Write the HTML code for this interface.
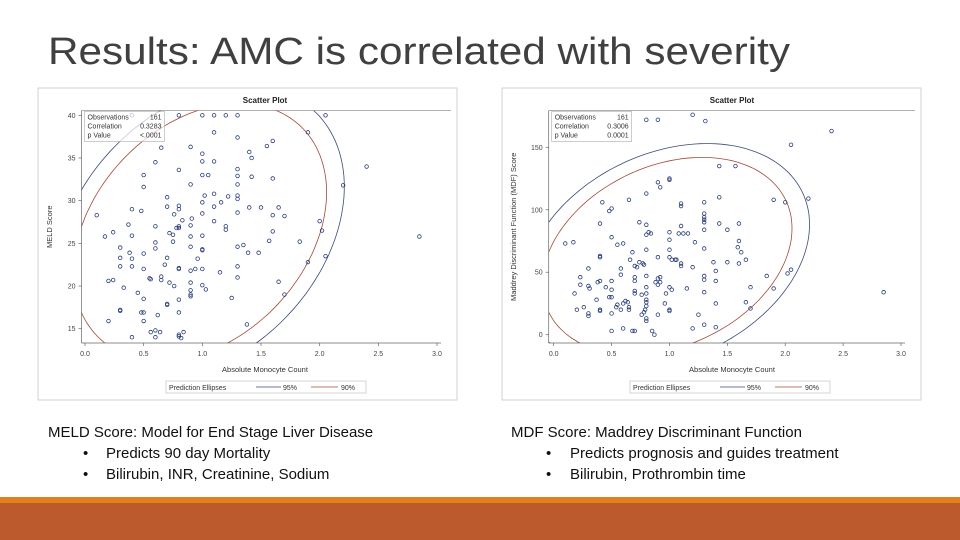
<!DOCTYPE html>
<html><head><meta charset="utf-8"><style>
html,body{margin:0;padding:0;background:#fff;}
svg{display:block;font-family:"Liberation Sans",sans-serif;}
</style></head><body>
<svg id="s" width="960" height="540" viewBox="0 0 960 540" xmlns="http://www.w3.org/2000/svg">
<text x="48" y="64" font-size="38" fill="#404040" textLength="742" lengthAdjust="spacingAndGlyphs">Results: AMC is correlated with severity</text>
<g id="left"></g>
<g id="right"></g>
<g font-size="15" fill="#111">
<text x="48" y="437">MELD Score: Model for End Stage Liver Disease</text>
<text x="83" y="458">•</text>
<text x="106" y="458">Predicts 90 day Mortality</text>
<text x="83" y="479">•</text>
<text x="106" y="479">Bilirubin, INR, Creatinine, Sodium</text>
</g>
<g font-size="15" fill="#111">
<text x="511" y="437">MDF Score: Maddrey Discriminant Function</text>
<text x="546" y="458">•</text>
<text x="570" y="458">Predicts prognosis and guides treatment</text>
<text x="546" y="479">•</text>
<text x="570" y="479">Bilirubin, Prothrombin time</text>
</g>
<rect x="0" y="497" width="960" height="6" fill="#E0821C"/>
<rect x="0" y="503" width="960" height="37" fill="#BC5A2E"/>
</svg>
<script>
const meldX=[0.4,0.8,1.0,1.1,1.2,1.3,2.05,1.1,1.3,1.9,0.65,0.9,1.55,1.6,1.4,1.42,1.0,0.6,1.0,1.1,2.4,0.8,1.3,0.5,1.0,1.05,1.3,1.42,1.6,0.5,0.9,1.3,2.2,1.1,1.02,1.22,1.3,0.7,1.3,0.7,0.8,0.4,0.48,0.8,1.1,1.16,1.0,1.4,1.5,1.65,0.1,0.76,0.83,1.0,1.3,1.6,1.7,0.91,0.37,0.6,0.78,0.8,0.9,1.1,1.2,2.0,0.17,0.24,0.4,0.72,0.75,0.8,0.9,1.0,1.2,1.6,2.02,2.85,0.6,0.75,1.57,1.83,1.35,0.3,0.6,0.9,1.0,1.0,1.3,0.38,0.5,1.39,1.48,0.3,0.4,0.7,0.96,2.05,1.9,0.3,0.4,0.68,0.8,0.8,0.94,1.0,1.3,0.5,0.9,1.15,0.55,0.56,0.65,0.65,0.2,0.24,0.72,0.9,1.3,1.65,0.33,0.76,1.0,1.03,0.9,0.45,0.9,0.9,1.7,0.5,0.8,1.25,0.7,0.7,0.3,0.3,0.48,0.5,0.62,0.8,0.2,0.5,1.38,0.6,0.56,0.64,0.8,0.84,0.8,0.4,0.6,0.82];
const meldY=[40,40,40,40,40,40,40,38,37.4,38,36.2,36.3,36.4,37,35.7,35,35.5,34.5,34.6,34.6,34,33.6,33.7,33,33,33,32.9,32.8,32.6,31.6,31.9,31.9,31.8,30.8,30.6,30.5,30.6,30.4,30.2,29.3,29.4,29,28.8,29,29.3,29.8,29.8,29.2,29.2,29.2,28.3,28.4,27.7,28.5,28.6,28.3,28.2,27.9,27.2,27,26.8,27,27.1,27.6,27,27.6,25.8,26.3,25.9,26.2,26,26.8,25.8,25.9,26.6,26.4,26.5,25.8,25.1,25.2,25.3,25.2,24.8,24.5,24.4,24.6,24.3,24.2,24.6,23.9,23.8,23.9,23.9,23.3,23.2,23.3,23.2,23.5,22.8,22.3,22.3,22.5,22.1,22,22,22,22.3,22,21.8,21.6,20.9,20.8,21.1,20.7,20.6,20.7,20.4,20.4,21,20.5,19.8,20,20.1,19.6,19.5,19.2,19,18.8,19,18.5,18.4,18.6,17.9,17.8,17.2,17.1,16.9,16.9,16.6,16.9,15.9,15.9,15.5,14.8,14.6,14.6,14.3,14.6,14.1,14,14,13.9];
const mdfX=[0.8,0.9,1.2,1.31,2.4,2.05,1.43,1.57,1.0,1.0,0.9,0.92,0.8,1.43,1.9,2.0,2.2,0.42,0.5,0.48,0.65,1.1,1.1,1.3,0.4,0.74,0.8,1.3,1.3,1.3,1.3,1.43,1.6,0.5,0.8,0.82,0.84,1.0,1.08,1.1,1.12,1.16,1.3,1.5,1.6,0.1,0.17,0.55,0.6,1.0,1.22,1.3,1.59,0.8,0.4,0.4,0.68,0.66,0.9,1.0,1.02,1.05,1.06,1.0,1.6,1.66,1.38,1.5,1.62,0.3,0.58,0.7,0.72,0.78,0.77,0.74,1.1,1.1,1.2,1.3,1.3,1.4,1.4,2.02,2.05,0.23,0.4,0.38,0.58,0.7,0.7,0.8,0.9,0.92,0.88,0.9,0.92,1.84,0.23,0.3,0.31,0.45,0.5,0.5,0.48,0.5,0.7,0.7,0.76,0.8,0.8,1.0,1.02,0.97,1.15,1.3,1.7,1.9,2.85,0.18,0.37,0.6,0.62,0.64,0.55,0.54,0.58,0.65,0.65,0.8,0.8,0.8,0.96,1.4,1.66,0.2,0.26,0.4,0.4,0.3,0.3,0.5,0.79,0.78,0.76,0.8,0.8,1.0,1.0,1.7,0.9,1.25,0.5,0.6,0.68,0.7,0.85,0.87,1.2,1.3,1.4];
const mdfY=[172,172,176,171,163,152,135,135,125,124,122,118,113,110,108,106,109,106,101,99,108,105,103,106,89,90,88,97,94,92,90,89,89,78,80,82,81,82,81,87,81,81,84,84,75,73,74,72,73,76,74,69,70,68,62,63,66,60,62,62,60,60,60,68,57,60,58,58,66,53,53,55,54,56,57,58,55,57,54,47,44,51,43,49,52,46,43,42,48,46,43,47,45,46,42,40,42,47,40,39,37,38,43,36,30,30,35,33,32,38,33,38,36,33,37,34,38,37,34,33,28,25,27,26,24,22,20,22,20,28,26,23,25,25,26,20,22,20,19,17,15,17,20,18,16,13,11,20,19,21,16,16,3,5,3,3,3,0,5,8,6];
const xTicks=["0.0","0.5","1.0","1.5","2.0","2.5","3.0"];
const meldYTicks=[15,20,25,30,35,40];
const mdfYTicks=[0,50,100,150];
const meldStats=["Observations","161","Correlation","0.3283","p Value","<.0001"];
const mdfStats=["Observations","161","Correlation","0.3006","p Value","0.0001"];
// ellipse params: meanX, meanY, halfX(95%), halfY(95%), r
const meldEll=[0.98,26.3,1.23,17.2,0.31];
const mdfEll=[0.98,63,1.23,90,0.28];
const NS="http://www.w3.org/2000/svg";
function mk(tag,attrs,parent){const e=document.createElementNS(NS,tag);for(const k in attrs)e.setAttribute(k,attrs[k]);parent.appendChild(e);return e;}
function chart(g,o){
  const fr=mk('rect',{x:o.fx,y:88,width:419,height:312,fill:'#fff',stroke:'#d0d0d0'},g);
  
  
  const t=mk('text',{x:o.fx+o.titleX,y:103,'font-size':8,'font-weight':'bold','text-anchor':'middle',fill:'#222'},g);t.textContent='Scatter Plot';
  
  
  const L=o.L,B=343,T=110.5,R=o.fx+413;
  const sx=v=>o.x0+(o.x3-o.x0)*v/3;
  const sy=v=>o.yA+(o.yB-o.yA)*(v-o.vA)/(o.vB-o.vA);
  mk('line',{x1:L,y1:T,x2:R,y2:T,stroke:'#999','stroke-width':0.7},g);
  const ax=mk('line',{x1:L,y1:T,x2:L,y2:B,stroke:'#666','stroke-width':0.7},g);
  
  
  const bx=mk('line',{x1:L,y1:B,x2:R-10,y2:B,stroke:'#666','stroke-width':0.7},g);
  
  
  xTicks.forEach((s,i)=>{const x=sx(+s);mk('line',{x1:x,y1:B,x2:x,y2:B+3,stroke:'#666','stroke-width':0.7},g);
    const tx=mk('text',{x:x,y:B+13,'font-size':7,'text-anchor':'middle',fill:'#444'},g);tx.textContent=s;
    
    });
  o.yTicks.forEach(v=>{const y=sy(v);mk('line',{x1:L-3,y1:y,x2:L,y2:y,stroke:'#666','stroke-width':0.7},g);
    const tx=mk('text',{x:L-6,y:y+2.5,'font-size':7,'text-anchor':'end',fill:'#444'},g);tx.textContent=v;
    
    });
  const xl=mk('text',{x:o.fx+o.titleX,y:372,'font-size':7.5,'text-anchor':'middle',fill:'#333'},g);xl.textContent='Absolute Monocyte Count';
  
  
  const yl=mk('text',{x:0,y:0,'font-size':7.5,'text-anchor':'middle',fill:'#333',transform:`translate(${o.fx+14},${(T+B)/2}) rotate(-90)`},g);yl.textContent=o.yTitle;
  
  
  const cid='c'+o.fx;const cp=mk('clipPath',{id:cid},g);mk('rect',{x:L,y:T,width:R-L,height:B-T},cp);
  const eg=mk('g',{'clip-path':`url(#${cid})`},g);
  [[1,'#3b4a7a','ellipse-95'],[0.877,'#a04a3a','ellipse-90']].forEach(([k,c,n])=>{
    const [mx,my,hx,hy,r]=o.ell;let d='';
    for(let i=0;i<=160;i++){const a=i/160*2*Math.PI;const xv=mx+k*hx*Math.cos(a);const yv=my+k*hy*(r*Math.cos(a)+Math.sqrt(1-r*r)*Math.sin(a));d+=(i?'L':'M')+sx(xv).toFixed(1)+','+sy(yv).toFixed(1);}
    const p=mk('path',{d:d,fill:'none',stroke:c,'stroke-width':0.8},eg);
    
    
  });
  o.xs.forEach((v,i)=>{const c=mk('circle',{cx:sx(v),cy:sy(o.ys[i]),r:1.8,fill:'none',stroke:'#2a3f7a','stroke-width':0.8},eg);
    
    });
  const sb=mk('g',{},g);
  
  
  mk('rect',{x:L+3,y:T+1,width:80,height:30,fill:'#fff','fill-opacity':0.7,stroke:'#aaa','stroke-width':0.6},sb);
  for(let i=0;i<3;i++){const a=mk('text',{x:L+6,y:T+9+i*9,'font-size':7,fill:'#333'},sb);a.textContent=o.stats[i*2];
    const b=mk('text',{x:L+80,y:T+9+i*9,'font-size':7,'text-anchor':'end',fill:'#333'},sb);b.textContent=o.stats[i*2+1];}
  const lg=mk('g',{},g);
  
  
  const lx=o.fx+128;
  mk('rect',{x:lx,y:381,width:200,height:12,fill:'#fff',stroke:'#bbb','stroke-width':0.6},lg);
  const lt=mk('text',{x:lx+3,y:390,'font-size':7,fill:'#333'},lg);lt.textContent='Prediction Ellipses';
  mk('line',{x1:lx+90,y1:387,x2:lx+115,y2:387,stroke:'#3b4a7a','stroke-width':0.8},lg);
  const l1=mk('text',{x:lx+117,y:390,'font-size':7,fill:'#333'},lg);l1.textContent='95%';
  mk('line',{x1:lx+145,y1:387,x2:lx+172,y2:387,stroke:'#a04a3a','stroke-width':0.8},lg);
  const l2=mk('text',{x:lx+175,y:390,'font-size':7,fill:'#333'},lg);l2.textContent='90%';
}
chart(document.getElementById('left'),{fx:38,titleX:227,L:81.5,x0:85,x3:437,yA:115.3,yB:328.7,vA:40,vB:15,yTicks:meldYTicks,yTitle:'MELD Score',xs:meldX,ys:meldY,stats:meldStats,ell:meldEll});
chart(document.getElementById('right'),{fx:502,titleX:230,L:548.7,x0:553.7,x3:901,yA:147.3,yB:334.7,vA:150,vB:0,yTicks:mdfYTicks,yTitle:'Maddrey Discriminant Function (MDF) Score',xs:mdfX,ys:mdfY,stats:mdfStats,ell:mdfEll});
</script>
</body></html>
